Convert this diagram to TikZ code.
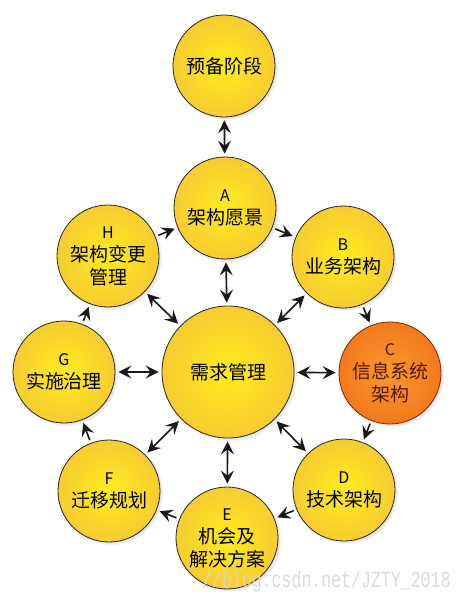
\documentclass[tikz,border=0pt]{standalone}
\usepackage{fontspec}
\newfontfamily\cjk{Noto Sans CJK SC}
\newfontfamily\wmfont{Liberation Mono}
\usetikzlibrary{arrows.meta,shadows,fadings}
\definecolor{yin}{RGB}{255,236,30}
\definecolor{yout}{RGB}{247,204,50}
\definecolor{oin}{RGB}{250,150,45}
\definecolor{oout}{RGB}{242,122,28}
\definecolor{oborder}{RGB}{125,35,10}
\definecolor{otext}{RGB}{85,22,0}
\definecolor{wmgray}{RGB}{215,215,215}
\newcommand\ltr[1]{{\fontsize{16}{23}\selectfont #1}}
\tikzset{
  ynode/.style={circle, draw=black!85, line width=0.8pt, minimum size=102pt,
    inner sep=0pt, shading=radial, inner color=yin, outer color=yout,
    align=center, font=\cjk\fontsize{19}{23}\selectfont, text=black,
    circular drop shadow={shadow xshift=2pt, shadow yshift=-2pt,
      shadow scale=1.03, opacity=0.45}},
  hubnode/.style={ynode, minimum size=132pt},
  cnode/.style={ynode, inner color=oin, outer color=oout, draw=oborder, text=otext},
  arrone/.style={-{Stealth[length=13pt,width=13pt,inset=5pt]}, line width=1.6pt,
    shorten >=3pt, shorten <=3pt, draw=black!90},
  arrtwo/.style={arrone, {Stealth[length=13pt,width=13pt,inset=5pt]}-{Stealth[length=13pt,width=13pt,inset=5pt]}}
}
\begin{document}
\begin{tikzpicture}[x=1pt,y=-1pt]
\fill[white] (0,0) rectangle (462,600);
\useasboundingbox (0,0) rectangle (462,600);

\node[ynode] (pre) at (224,66) {预备阶段};
\node[ynode] (A) at (225,208) {\ltr{A}\\架构愿景};
\node[ynode] (B) at (343,257) {\ltr{B}\\业务架构};
\node[cnode] (C) at (390,373) {\ltr{C}\\信息系统\\架构};
\node[ynode] (D) at (344,490) {\ltr{D}\\技术架构};
\node[ynode] (E) at (227,538) {\ltr{E}\\机会及\\解决方案};
\node[ynode] (F) at (109,491) {\ltr{F}\\迁移规划};
\node[ynode] (G) at (64,372) {\ltr{G}\\实施治理};
\node[ynode] (H) at (108,256) {\ltr{H}\\架构变更\\管理};
\node[hubnode] (hub) at (228,372) {需求管理};

\draw[arrtwo] (pre) -- (A);
\foreach \n in {A,B,C,D,E,F,G,H} \draw[arrtwo] (hub) -- (\n);
\draw[arrone] (A) -- (B);
\draw[arrone] (B) -- (C);
\draw[arrone] (C) -- (D);
\draw[arrone] (D) -- (E);
\draw[arrone] (E) -- (F);
\draw[arrone] (F) -- (G);
\draw[arrone] (G) -- (H);
\draw[arrone] (H) -- (A);

\node[anchor=base west, inner sep=0pt, text=wmgray, opacity=0.9, xscale=0.72,
  font=\wmfont\fontsize{23}{23}\selectfont] (wm) at (202,587) {//blog.csdn.net/JZTY\_2018};
\end{tikzpicture}
\end{document}
